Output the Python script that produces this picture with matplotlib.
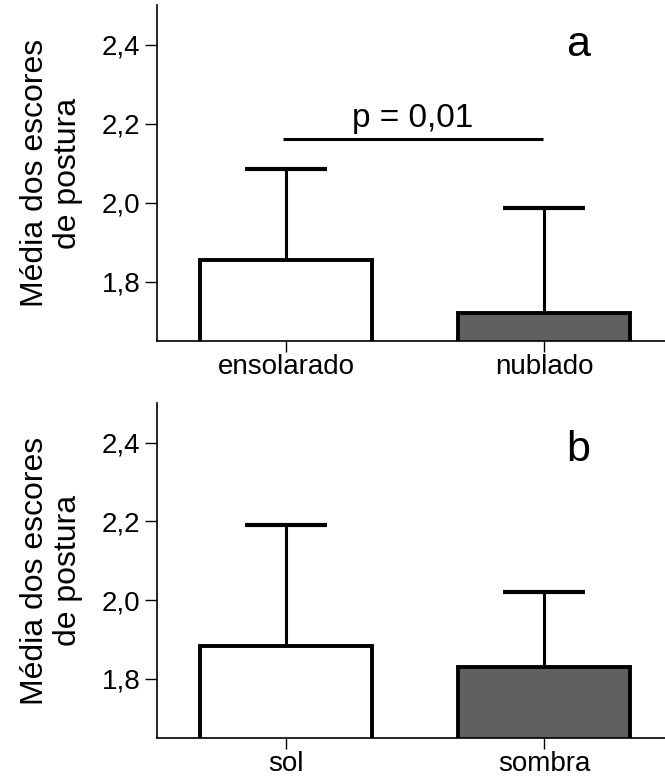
import matplotlib
matplotlib.use("Agg")
import matplotlib.pyplot as plt

plt.rcParams["font.family"] = ["Liberation Sans", "DejaVu Sans"]

# painel a: condicao do tempo
cond_a = ["ensolarado", "nublado"]
media_a = [1.855, 1.722]
erro_a = [0.229, 0.265]

# painel b: local
cond_b = ["sol", "sombra"]
media_b = [1.882, 1.829]
erro_b = [0.310, 0.192]

p_texto = "p = 0,01"
p_altura = 2.162

cores = ["white", "#606060"]
ylabel = "Média dos escores\nde postura"
yticks = [1.8, 2.0, 2.2, 2.4]


def painel(ax, nomes, medias, erros, letra, letra_y):
    x = list(range(len(nomes)))
    topo = [m + e for m, e in zip(medias, erros)]
    ax.bar(x, medias, width=0.667, color=cores, edgecolor="black",
           linewidth=2.8, zorder=2)
    # so a metade de cima do erro, com a barra do "T"
    ax.vlines(x, medias, topo, color="black", lw=2.2, zorder=1)
    ax.hlines(topo, [i - 0.159 for i in x], [i + 0.159 for i in x],
              color="black", lw=3, zorder=1)
    ax.set_xlim(-0.501, 1.468)
    ax.set_ylim(1.65, 2.5)
    ax.set_xticks(x)
    ax.set_xticklabels(nomes, fontsize=20)
    ax.set_yticks(yticks)
    ax.set_yticklabels([f"{v:.1f}".replace(".", ",") for v in yticks],
                       fontsize=20)
    ax.tick_params(axis="y", length=9, width=1, pad=3)
    ax.tick_params(axis="x", length=8, width=1, pad=1.5)
    ax.spines["top"].set_visible(False)
    ax.spines["right"].set_visible(False)
    ax.spines["left"].set_linewidth(1.2)
    ax.spines["bottom"].set_linewidth(1.2)
    ax.set_ylabel(ylabel, fontsize=23, linespacing=1.15)
    ax.yaxis.label.set_va("center")
    ax.yaxis.set_label_coords(-0.207, 0.5)
    ax.text(1.13, letra_y, letra, fontsize=31, ha="center",
            va="baseline")


fig = plt.figure(figsize=(6.65, 7.8), dpi=100)
ax1 = fig.add_axes([0.236, 0.5628, 0.764, 0.4308])
ax2 = fig.add_axes([0.236, 0.0542, 0.764, 0.4287])

painel(ax1, cond_a, media_a, erro_a, "a", 2.372)
painel(ax2, cond_b, media_b, erro_b, "b", 2.354)

# linha de significancia entre as barras do painel a
ax1.plot([-0.013, 0.995], [p_altura, p_altura], color="black", lw=2.2,
         solid_capstyle="butt")
ax1.text(0.491, p_altura + 0.029, p_texto, fontsize=24, ha="center",
         va="baseline")

fig.savefig("out.png", dpi=100)
